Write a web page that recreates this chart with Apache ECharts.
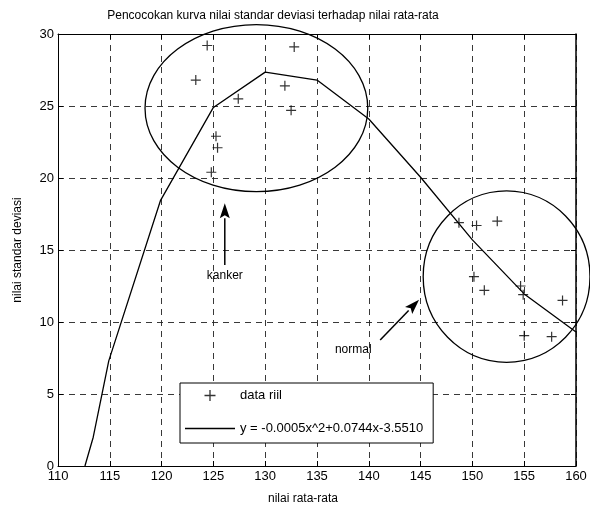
<!DOCTYPE html>
<html>
<head>
<meta charset="utf-8">
<script src="https://cdn.jsdelivr.net/npm/echarts@6/dist/echarts.min.js"></script>
<style>
  html, body { margin: 0; padding: 0; background: #fff; }
  #chart { width: 590px; height: 513px; }
</style>
</head>
<body>
<div id="chart"></div>
<script>
// data riil (nilai rata-rata, nilai standar deviasi)
const meanKanker = [124.4, 132.8, 123.3, 131.9, 127.4, 132.5, 125.25, 125.4, 124.8]
const stdKanker = [29.2, 29.1, 26.8, 26.4, 25.5, 24.7, 22.9, 22.1, 20.4]
const meanNormal = [148.7, 150.4, 152.4, 150.15, 151.15, 154.65, 154.9, 158.7, 155.0, 157.65]
const stdNormal = [16.9, 16.7, 17.0, 13.15, 12.2, 12.5, 11.9, 11.5, 9.05, 8.98]

// kurva pencocokan
const fitX = [112.6, 113.4, 114.9, 119.9, 125, 130, 135, 140, 145, 150, 155, 160]
const fitY = [0, 2.0, 7.3, 18.45, 24.9, 27.35, 26.8, 24.1, 20.05, 15.7, 11.95, 9.3]

const legendNames = ['data riil', 'y = -0.0005x^2+0.0744x-3.5510']

// anotasi dalam satuan data: [cx, cy, rx, ry]
const ellipses = [[129.15, 24.85, 10.75, 5.8], [153.3, 13.15, 8.05, 5.95]]
const arrows = [[[126.1, 13.95], [126.1, 18.25]], [[141.1, 8.75], [144.85, 11.55]]]
const notes = [['kanker', 126.1, 13.25], ['normal', 138.5, 8.05]]

const plus = 'path://M4.4,0h1.2v10h-1.2z M0,4.4h10v1.2h-10z'
const font = 'Liberation Sans, Arial, sans-serif'

const chart = echarts.init(document.getElementById('chart'))

const scatterData = meanKanker.map((x, i) => [x, stdKanker[i]])
  .concat(meanNormal.map((x, i) => [x, stdNormal[i]]))
const fitData = fitX.map((x, i) => [x, fitY[i]])

const gridLine = { show: true, lineStyle: { color: '#222', width: 0.9, type: [6, 5] } }

const option = {
  backgroundColor: '#fff',
  animation: false,
  textStyle: { fontFamily: font },
  title: {
    text: 'Pencocokan kurva nilai standar deviasi terhadap nilai rata-rata',
    left: 268,
    textAlign: 'center',
    top: 5,
    textStyle: { fontSize: 12, fontWeight: 'normal', color: '#000', fontFamily: font }
  },
  grid: { left: 58, right: 14, top: 34, bottom: 47 },
  legend: {
    orient: 'vertical',
    left: 180,
    top: 383,
    data: [
      { name: legendNames[0], icon: plus },
      { name: legendNames[1], icon: 'path://M0,0h50v1.3h-50z' }
    ],
    itemWidth: 50,
    itemHeight: 11,
    itemGap: 20,
    padding: [6, 10, 8, 5],
    borderColor: '#000',
    borderWidth: 1,
    borderRadius: 0,
    backgroundColor: '#fff',
    textStyle: { fontSize: 13, color: '#000', fontFamily: font }
  },
  xAxis: [
    {
      type: 'value',
      min: 110,
      max: 160,
      interval: 5,
      name: 'nilai rata-rata',
      nameLocation: 'middle',
      nameGap: 27,
      nameTextStyle: { fontSize: 12, color: '#000', padding: [0, 28, 0, 0] },
      axisLine: { onZero: false, lineStyle: { color: '#000', width: 1 } },
      axisTick: { inside: true, length: 5, lineStyle: { color: '#000' } },
      axisLabel: { color: '#000', fontSize: 13, margin: 4 },
      splitLine: gridLine
    },
    {
      type: 'value',
      position: 'top',
      min: 110,
      max: 160,
      interval: 5,
      axisLine: { onZero: false, lineStyle: { color: '#000', width: 1 } },
      axisTick: { inside: true, length: 5, lineStyle: { color: '#000' } },
      axisLabel: { show: false },
      splitLine: { show: false }
    }
  ],
  yAxis: [
    {
      type: 'value',
      min: 0,
      max: 30,
      interval: 5,
      name: 'nilai standar deviasi',
      nameLocation: 'middle',
      nameGap: 34,
      nameTextStyle: { fontSize: 12, color: '#000' },
      axisLine: { show: true, onZero: false, lineStyle: { color: '#000', width: 1 } },
      axisTick: { show: true, inside: true, length: 5, lineStyle: { color: '#000' } },
      axisLabel: { color: '#000', fontSize: 13, margin: 4 },
      splitLine: gridLine
    },
    {
      type: 'value',
      position: 'right',
      min: 0,
      max: 30,
      interval: 5,
      axisLine: { show: true, onZero: false, lineStyle: { color: '#000', width: 1.5 } },
      axisTick: { show: true, inside: true, length: 5, lineStyle: { color: '#000' } },
      axisLabel: { show: false },
      splitLine: { show: false }
    }
  ],
  series: [
    {
      name: legendNames[0],
      type: 'scatter',
      data: scatterData,
      symbol: plus,
      symbolSize: 10,
      symbolKeepAspect: true,
      itemStyle: { color: '#000' }
    },
    {
      name: legendNames[1],
      type: 'line',
      data: fitData,
      symbol: 'none',
      showSymbol: false,
      lineStyle: { color: '#000', width: 1.3 },
      itemStyle: { color: '#000' }
    }
  ]
}

chart.setOption(option)

// gambar elips, panah dan keterangan
const toPx = (p) => chart.convertToPixel({ gridIndex: 0 }, p)
const graphics = []

ellipses.forEach(([cx, cy, rx, ry]) => {
  const c = toPx([cx, cy])
  const e = toPx([cx + rx, cy + ry])
  graphics.push({
    type: 'ellipse',
    shape: { cx: c[0], cy: c[1], rx: Math.abs(e[0] - c[0]), ry: Math.abs(c[1] - e[1]) },
    style: { fill: 'none', stroke: '#000', lineWidth: 1.3 },
    z: 10
  })
})

arrows.forEach(([from, to]) => {
  const a = toPx(from)
  const b = toPx(to)
  const ang = Math.atan2(b[1] - a[1], b[0] - a[0])
  const len = 15
  const half = 5
  const bx = b[0] - len * Math.cos(ang)
  const by = b[1] - len * Math.sin(ang)
  const nx = -Math.sin(ang) * half
  const ny = Math.cos(ang) * half
  graphics.push({
    type: 'line',
    shape: { x1: a[0], y1: a[1], x2: bx, y2: by },
    style: { stroke: '#000', lineWidth: 1.5 },
    z: 10
  })
  graphics.push({
    type: 'polygon',
    shape: { points: [[b[0], b[1]], [bx + nx, by + ny], [bx + 3 * Math.cos(ang), by + 3 * Math.sin(ang)], [bx - nx, by - ny]] },
    style: { fill: '#000' },
    z: 10
  })
})

notes.forEach(([txt, x, y]) => {
  const p = toPx([x, y])
  graphics.push({
    type: 'text',
    x: p[0],
    y: p[1],
    style: { text: txt, fontSize: 12, fontFamily: font, fill: '#000', align: 'center', verticalAlign: 'middle' },
    z: 10
  })
})

chart.setOption({ graphic: graphics })
</script>
</body>
</html>
